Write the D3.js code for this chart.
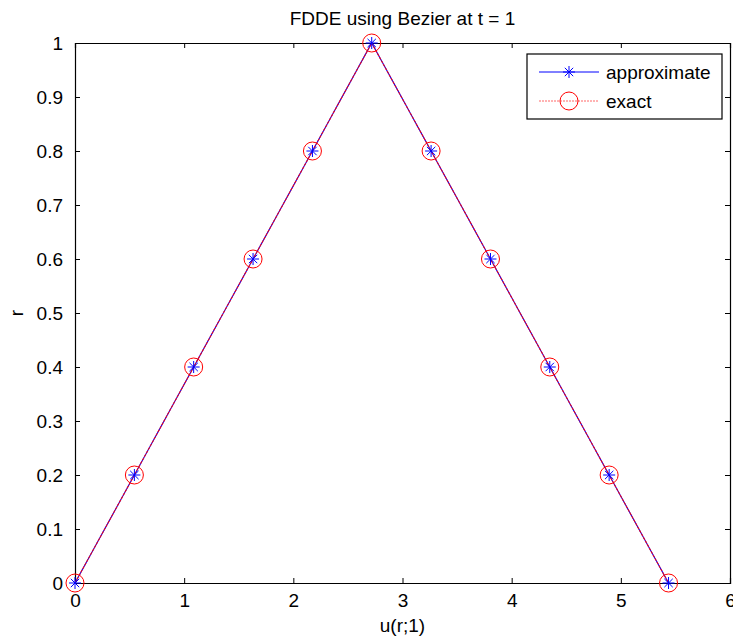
<!doctype html>
<html>
  <head>
    <script src="https://d3js.org/d3.v7.min.js"></script>
    <style>
      body { margin: 0; background: #fff; }
      text { font-family: "Liberation Sans", Arial, sans-serif; fill: #000; }
      .tick text { font-size: 19px; }
      text.title { font-size: 19px; }
      text.label { font-size: 19px; }
      text.leg { font-size: 19px; }
    </style>
  </head>
  <body>
    <svg id="chart" width="733" height="640"></svg>
    <script>
      // values
      var rValues = [0, 0.2, 0.4, 0.6, 0.8, 1, 0.8, 0.6, 0.4, 0.2, 0];
      var uApprox = [0, 0.544, 1.087, 1.631, 2.175, 2.718, 3.262, 3.806, 4.349, 4.893, 5.437];
      var uExact = [0, 0.544, 1.087, 1.631, 2.175, 2.718, 3.262, 3.806, 4.349, 4.893, 5.437];
      var xTicks = [0, 1, 2, 3, 4, 5, 6];
      var yTicks = [0, 0.1, 0.2, 0.3, 0.4, 0.5, 0.6, 0.7, 0.8, 0.9, 1];
      var seriesNames = ['approximate', 'exact'];

      var mLeft = 75, mRight = 730, mTop = 43, mBottom = 583;
      var svg = d3.select('#chart');

      var x = d3.scaleLinear().domain([0, 6]).range([mLeft, mRight]);
      var y = d3.scaleLinear().domain([0, 1]).range([mBottom, mTop]);

      var approx = uApprox.map((u, i) => ({ u: u, r: rValues[i] }));
      var exact = uExact.map((u, i) => ({ u: u, r: rValues[i] }));

      // axes (ticks inside, on all four sides like matlab)
      var fmt = d3.format('');
      svg.append('g').attr('transform', 'translate(0,' + mBottom + ')')
        .call(d3.axisBottom(x).tickValues(xTicks).tickSize(-5).tickPadding(11).tickFormat(fmt));
      svg.append('g').attr('transform', 'translate(0,' + mTop + ')')
        .call(d3.axisTop(x).tickValues(xTicks).tickSize(-5).tickFormat(''));
      svg.append('g').attr('transform', 'translate(' + mLeft + ',0)')
        .call(d3.axisLeft(y).tickValues(yTicks).tickSize(-5).tickPadding(12).tickFormat(fmt));
      svg.append('g').attr('transform', 'translate(' + mRight + ',0)')
        .call(d3.axisRight(y).tickValues(yTicks).tickSize(-5).tickFormat(''));
      svg.selectAll('.domain').attr('stroke', '#000').attr('stroke-width', 1.2);
      svg.selectAll('.tick line').attr('stroke', '#000');
      svg.selectAll('.tick text').attr('fill', '#000');

      var line = d3.line().x(d => x(d.u)).y(d => y(d.r));

      svg.append('path').datum(approx)
        .attr('d', line).attr('fill', 'none')
        .attr('stroke', '#0000ff').attr('stroke-width', 1.1);
      svg.append('path').datum(exact)
        .attr('d', line).attr('fill', 'none')
        .attr('stroke', '#ff0000').attr('stroke-opacity', 0.9).attr('stroke-width', 1.1)
        .attr('stroke-dasharray', '3,1');

      function star(cx, cy, s) {
        return 'M' + (cx - s) + ',' + cy + 'L' + (cx + s) + ',' + cy +
          'M' + cx + ',' + (cy - s) + 'L' + cx + ',' + (cy + s) +
          'M' + (cx - s * 0.7) + ',' + (cy - s * 0.7) + 'L' + (cx + s * 0.7) + ',' + (cy + s * 0.7) +
          'M' + (cx - s * 0.7) + ',' + (cy + s * 0.7) + 'L' + (cx + s * 0.7) + ',' + (cy - s * 0.7);
      }

      svg.append('g').selectAll('path').data(approx).enter().append('path')
        .attr('d', d => star(x(d.u), y(d.r), 6))
        .attr('stroke', '#0000ff').attr('stroke-width', 1).attr('fill', 'none');
      svg.append('g').selectAll('circle').data(exact).enter().append('circle')
        .attr('cx', d => x(d.u)).attr('cy', d => y(d.r)).attr('r', 9)
        .attr('fill', 'none').attr('stroke', '#ff0000').attr('stroke-width', 1);

      // title and labels
      svg.append('text').attr('class', 'title')
        .attr('x', (mLeft + mRight) / 2).attr('y', 25).attr('text-anchor', 'middle')
        .text('FDDE using Bezier at t = 1');
      svg.append('text').attr('class', 'label')
        .attr('x', (mLeft + mRight) / 2).attr('y', 632).attr('text-anchor', 'middle')
        .text('u(r;1)');
      svg.append('text').attr('class', 'label')
        .attr('transform', 'translate(23,' + ((mTop + mBottom) / 2) + ') rotate(-90)')
        .attr('text-anchor', 'middle')
        .text('r');

      // legend
      var leg = svg.append('g').attr('transform', 'translate(527,54)');
      leg.append('rect').attr('width', 195).attr('height', 65)
        .attr('fill', '#fff').attr('stroke', '#000').attr('stroke-width', 1.2);
      seriesNames.forEach(function (name, i) {
        var ly = 18 + i * 29;
        leg.append('line').attr('x1', 12).attr('x2', 72).attr('y1', ly).attr('y2', ly)
          .attr('stroke', i ? '#ff0000' : '#0000ff').attr('stroke-width', 1)
          .attr('stroke-opacity', i ? 0.6 : 1)
          .attr('stroke-dasharray', i ? '2,1' : null);
        if (i) {
          leg.append('circle').attr('cx', 42).attr('cy', ly).attr('r', 9)
            .attr('fill', 'none').attr('stroke', '#ff0000');
        } else {
          leg.append('path').attr('d', star(42, ly, 6))
            .attr('stroke', '#0000ff').attr('fill', 'none');
        }
        leg.append('text').attr('class', 'leg')
          .attr('x', 79).attr('y', ly + 7).text(name);
      });
    </script>
  </body>
</html>
